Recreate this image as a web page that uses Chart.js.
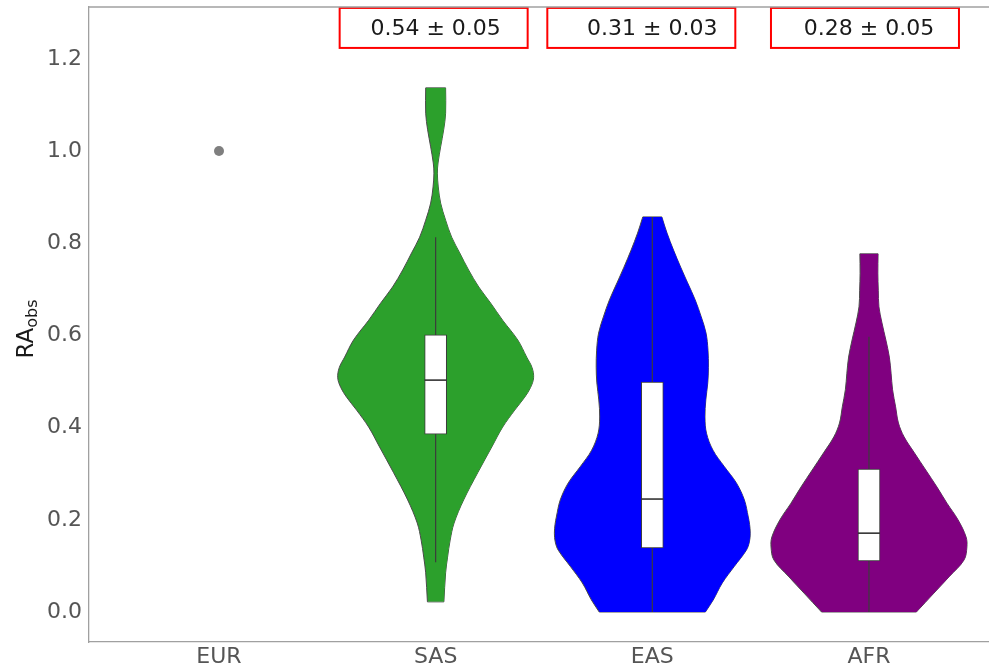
<!DOCTYPE html>
<html>
<head>
<meta charset="utf-8">
<script src="https://cdn.jsdelivr.net/npm/chart.js@4.4.0/dist/chart.umd.min.js"></script>
<style>
  html, body { margin: 0; padding: 0; background: #ffffff; }
  canvas { display: block; }
</style>
</head>
<body>
<canvas id="chart" width="989" height="671"></canvas>
<script>
// ---- data ----
const categories = ['EUR', 'SAS', 'EAS', 'AFR'];
const yTicks = [0.0, 0.2, 0.4, 0.6, 0.8, 1.0, 1.2];

// EUR has a single observation
const eurValues = [1.0];

// violin outlines: RA values (bottom to top) and kernel density half-widths
const sasY = [0.022, 0.085, 0.119, 0.156, 0.193, 0.243, 0.302, 0.358, 0.401, 0.438, 0.466, 0.487, 0.508, 0.530, 0.553, 0.590, 0.633, 0.670, 0.705, 0.742, 0.779, 0.813, 0.850, 0.887, 0.922, 0.952, 0.974, 1.009, 1.046, 1.082, 1.137];
const sasW = [0.038, 0.046, 0.055, 0.067, 0.085, 0.129, 0.194, 0.259, 0.309, 0.365, 0.411, 0.438, 0.452, 0.445, 0.420, 0.379, 0.309, 0.254, 0.199, 0.152, 0.111, 0.074, 0.046, 0.023, 0.012, 0.008, 0.011, 0.023, 0.037, 0.046, 0.046];

const easY = [0.0, 0.026, 0.063, 0.098, 0.134, 0.152, 0.171, 0.190, 0.206, 0.243, 0.280, 0.315, 0.351, 0.388, 0.423, 0.460, 0.497, 0.531, 0.568, 0.605, 0.640, 0.677, 0.714, 0.748, 0.785, 0.822, 0.857];
const easW = [0.245, 0.281, 0.323, 0.377, 0.434, 0.448, 0.452, 0.449, 0.443, 0.425, 0.388, 0.333, 0.280, 0.250, 0.243, 0.247, 0.256, 0.259, 0.257, 0.248, 0.226, 0.198, 0.163, 0.131, 0.098, 0.068, 0.044];

const afrY = [0.0, 0.041, 0.076, 0.113, 0.141, 0.163, 0.200, 0.236, 0.271, 0.308, 0.345, 0.380, 0.410, 0.445, 0.482, 0.518, 0.553, 0.590, 0.627, 0.662, 0.698, 0.735, 0.777];
const afrW = [0.219, 0.300, 0.369, 0.439, 0.452, 0.448, 0.411, 0.360, 0.314, 0.262, 0.210, 0.162, 0.136, 0.123, 0.109, 0.102, 0.094, 0.078, 0.060, 0.046, 0.043, 0.041, 0.042];

// box plot statistics for SAS, EAS, AFR
const boxQ1 = [0.386, 0.139, 0.111];
const boxMedian = [0.503, 0.245, 0.171];
const boxQ3 = [0.601, 0.499, 0.310];
const whiskerLow = [0.108, 0.0, 0.0];
const whiskerHigh = [0.813, 0.857, 0.597];

// mean ± standard error shown above each violin
const meanRA = [0.54, 0.31, 0.28];
const semRA = [0.05, 0.03, 0.05];

// ---- styling ----
const FONT = '"DejaVu Sans", "Liberation Sans", sans-serif';
const OUTLINE = '#4a4a4a';
const BOX_HALF = 0.051;
const violins = [
  { pos: 1, ys: sasY, ws: sasW, color: '#2ca02c' },
  { pos: 2, ys: easY, ws: easW, color: '#0000ff' },
  { pos: 3, ys: afrY, ws: afrW, color: '#800080' }
];

const datasets = [];

violins.forEach((v, i) => {
  const n = v.ys.length;
  // left contour, filled across to the right contour (next dataset)
  datasets.push({
    type: 'line', indexAxis: 'y', order: 5,
    data: v.ys.map((y, k) => ({ x: v.pos - v.ws[k], y })),
    fill: '+1', backgroundColor: v.color,
    borderColor: OUTLINE, borderWidth: 1, pointRadius: 0, tension: 0.35
  });
  datasets.push({
    type: 'line', indexAxis: 'y', order: 5,
    data: v.ys.map((y, k) => ({ x: v.pos + v.ws[k], y })),
    fill: false, backgroundColor: v.color,
    borderColor: OUTLINE, borderWidth: 1, pointRadius: 0, tension: 0.35
  });
  // flat ends of the violin (cut at data range)
  [0, n - 1].forEach(k => {
    datasets.push({
      type: 'line', order: 5,
      data: [{ x: v.pos - v.ws[k], y: v.ys[k] }, { x: v.pos + v.ws[k], y: v.ys[k] }],
      fill: false, borderColor: OUTLINE, borderWidth: 1, pointRadius: 0
    });
  });
  // whisker
  datasets.push({
    type: 'line', order: 3,
    data: [{ x: v.pos, y: whiskerLow[i] }, { x: v.pos, y: whiskerHigh[i] }],
    fill: false, borderColor: '#3c3c3c', borderWidth: 1.2, pointRadius: 0
  });
  // median
  datasets.push({
    type: 'line', order: 1,
    data: [{ x: v.pos - BOX_HALF, y: boxMedian[i] }, { x: v.pos + BOX_HALF, y: boxMedian[i] }],
    fill: false, borderColor: '#333333', borderWidth: 1.6, pointRadius: 0
  });
});

// interquartile boxes
datasets.push({
  type: 'bar', indexAxis: 'x', order: 2,
  data: violins.map((v, i) => ({ x: v.pos, y: [boxQ1[i], boxQ3[i]] })),
  backgroundColor: '#ffffff', borderColor: '#3c3c3c', borderWidth: 1,
  borderSkipped: false, barThickness: 22, grouped: false
});

// EUR single point
datasets.push({
  type: 'scatter', order: 0,
  data: eurValues.map(y => ({ x: 0, y })),
  pointRadius: 5, pointBackgroundColor: '#7f7f7f', pointBorderColor: '#7f7f7f', pointBorderWidth: 0
});

// ---- plugins ----
const topSpine = {
  id: 'topSpine',
  afterDraw(chart) {
    const { ctx, chartArea } = chart;
    ctx.save();
    ctx.strokeStyle = '#a0a0a0';
    ctx.lineWidth = 1.3;
    ctx.beginPath();
    ctx.moveTo(chartArea.left, chartArea.top);
    ctx.lineTo(chartArea.right, chartArea.top);
    ctx.stroke();
    ctx.restore();
  }
};

const yTitle = {
  id: 'yTitle',
  afterDraw(chart) {
    const { ctx } = chart;
    const main = 'RA', sub = 'obs';
    ctx.save();
    ctx.translate(33, 329);
    ctx.rotate(-Math.PI / 2);
    ctx.fillStyle = '#1a1a1a';
    ctx.textAlign = 'left';
    ctx.textBaseline = 'alphabetic';
    ctx.font = '23px ' + FONT;
    const wMain = ctx.measureText(main).width;
    ctx.font = '16px ' + FONT;
    const wSub = ctx.measureText(sub).width;
    const start = -(wMain + wSub) / 2;
    ctx.font = '23px ' + FONT;
    ctx.fillText(main, start, 0);
    ctx.font = '16px ' + FONT;
    ctx.fillText(sub, start + wMain, 4);
    ctx.restore();
  }
};

const statBoxes = {
  id: 'statBoxes',
  afterDatasetsDraw(chart, args, opts) {
    const { ctx, scales: { x, y } } = chart;
    const yc = y.getPixelForValue(opts.level);
    ctx.save();
    ctx.font = '22px ' + FONT;
    ctx.textAlign = 'center';
    ctx.textBaseline = 'middle';
    meanRA.forEach((m, i) => {
      const cx = x.getPixelForValue(i + 1);
      const bx = cx + opts.boxShift[i];
      ctx.strokeStyle = '#ff0000';
      ctx.lineWidth = 2;
      ctx.strokeRect(bx - opts.width / 2, yc - opts.height / 2, opts.width, opts.height);
      ctx.fillStyle = '#1a1a1a';
      ctx.fillText(m.toFixed(2) + ' \u00b1 ' + semRA[i].toFixed(2), cx, yc + 1);
    });
    ctx.restore();
  }
};

const noPad = s => { s.paddingTop = 0; s.paddingBottom = 0; s.paddingLeft = 0; s.paddingRight = 0; };

new Chart(document.getElementById('chart'), {
  type: 'line',
  data: { datasets },
  options: {
    responsive: false,
    animation: false,
    devicePixelRatio: 1,
    layout: { autoPadding: false, padding: { top: 7, right: 0, bottom: 0, left: 0 } },
    plugins: {
      legend: { display: false },
      tooltip: { enabled: false },
      statBoxes: { level: 1.267, width: 188, height: 40, boxShift: [-2, -11, -4] }
    },
    scales: {
      x: {
        type: 'linear', min: -0.6, max: 3.554, offset: false,
        grid: { display: false, drawTicks: false, offset: false },
        border: { display: true, color: '#a0a0a0', width: 1.3 },
        afterBuildTicks: s => { s.ticks = categories.map((_, i) => ({ value: i })); },
        afterFit: s => { s.height = 29; noPad(s); },
        ticks: {
          autoSkip: false, maxRotation: 0, padding: 2,
          color: '#555555', font: { family: FONT, size: 22 },
          callback: v => categories[v]
        }
      },
      y: {
        type: 'linear', min: -0.0651, max: 1.3124,
        grid: { display: false, drawTicks: false },
        border: { display: true, color: '#a0a0a0', width: 1.3 },
        afterBuildTicks: s => { s.ticks = yTicks.map(v => ({ value: v })); },
        afterFit: s => { s.width = 89; noPad(s); },
        ticks: {
          autoSkip: false, padding: 7,
          color: '#555555', font: { family: FONT, size: 22 },
          callback: v => v.toFixed(1)
        }
      }
    }
  },
  plugins: [topSpine, yTitle, statBoxes]
});
</script>
</body>
</html>
